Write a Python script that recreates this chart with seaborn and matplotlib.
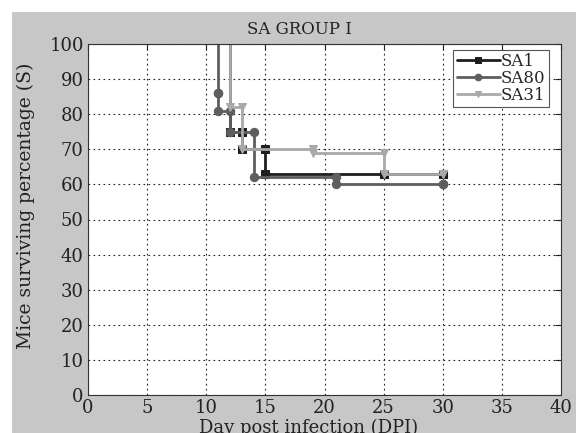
import numpy as np
import pandas as pd
import matplotlib
matplotlib.use("Agg")
import matplotlib.pyplot as plt
from matplotlib.patches import Rectangle
import seaborn as sns

# Data: event days and survival (%) after each event; survival starts at 100
series_names = ["SA1", "SA80", "SA31"]
sa1_days = [12, 13, 15, 25, 30]
sa1_surv = [75, 70, 63, 63, 63]
sa80_days = [11, 11, 12, 14, 21, 30]
sa80_surv = [86, 81, 75, 62, 60, 60]
sa31_days = [12, 13, 19, 25, 30]
sa31_surv = [82, 70, 69, 63, 63]

x_ticks = [0, 5, 10, 15, 20, 25, 30, 35, 40]
y_ticks = [0, 10, 20, 30, 40, 50, 60, 70, 80, 90, 100]

colors = {"SA1": "#1e1e1e", "SA80": "#5e5e5e", "SA31": "#a9a9a9"}
markers = {"SA1": "s", "SA80": "o", "SA31": "v"}

def step_vertices(days, surv, start=100):
    xs, ys = [], []
    prev = start
    for d, s in zip(days, surv):
        xs += [d, d]
        ys += [prev, s]
        prev = s
    return xs, ys

sns.set_style("white")
plt.rcParams['font.family'] = ['DejaVu Serif']

fig = plt.figure(figsize=(5.76, 4.33), dpi=100, facecolor="white")
fig.patches.append(Rectangle((12/576, 0), 1 - 12/576, 1 - 12/433,
                             transform=fig.transFigure, facecolor="#c7c7c7",
                             edgecolor="none", zorder=-10))
ax = fig.add_axes([88/576, 1 - 395/433, (561 - 88)/576, (395 - 44)/433])
ax.set_facecolor("white")

data = {"SA1": (sa1_days, sa1_surv), "SA80": (sa80_days, sa80_surv),
        "SA31": (sa31_days, sa31_surv)}
for name in series_names:
    xs, ys = step_vertices(*data[name])
    df = pd.DataFrame({"day": xs, "surv": ys})
    sns.lineplot(data=df, x="day", y="surv", ax=ax, sort=False, estimator=None,
                 color=colors[name], linewidth=2.0, marker=markers[name],
                 markersize=6, markeredgecolor=colors[name],
                 markerfacecolor=colors[name], markevery=list(range(1, len(xs))),
                 label=name, clip_on=True)

ax.set_xlim(0, 40)
ax.set_ylim(0, 100)
ax.set_xticks(x_ticks)
ax.set_yticks(y_ticks)
ax.tick_params(direction="in", length=4, labelsize=13, colors="#222222",
               top=True, right=True, pad=3)
ax.grid(True, color="#222222", linestyle=(0, (1.5, 3)), linewidth=0.8)
for sp in ax.spines.values():
    sp.set_color("#333333")
    sp.set_linewidth(0.8)

ax.set_title("SA GROUP I", fontsize=12, color="#222222", pad=7, x=0.447)
ax.set_xlabel("Day post infection (DPI)", fontsize=13, color="#222222")
ax.xaxis.set_label_coords(0.467, -0.068)
ax.set_ylabel("Mice surviving percentage (S)", fontsize=13.5, color="#222222")
ax.yaxis.set_label_coords(-0.112, 0.54)

leg = ax.legend(loc="upper right", fontsize=12, frameon=True, fancybox=False,
                edgecolor="#555555", handlelength=2.6, handletextpad=0.05,
                borderpad=0.2, labelspacing=0.0, borderaxespad=0.6,
                framealpha=1, markerscale=0.8, bbox_to_anchor=(0.995, 1.012))
leg.get_frame().set_linewidth(0.8)

fig.savefig("out.png", dpi=100, facecolor=fig.get_facecolor())
